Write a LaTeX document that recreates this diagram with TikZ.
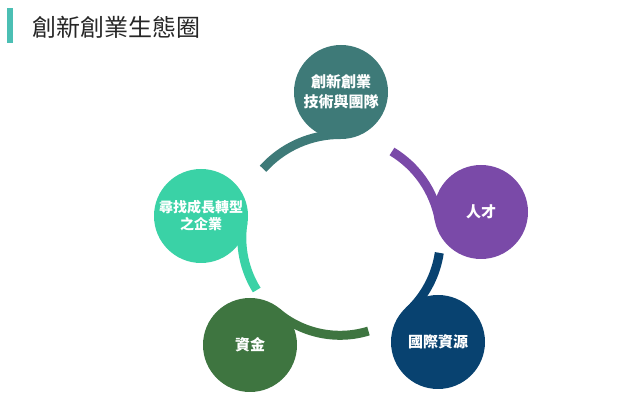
\documentclass[tikz,border=0pt]{standalone}
\usepackage{fontspec}
\setmainfont{Noto Sans CJK TC}
\definecolor{teamc}{RGB}{62,122,120}
\definecolor{talentc}{RGB}{122,74,168}
\definecolor{globalc}{RGB}{8,66,112}
\definecolor{fundc}{RGB}{62,117,64}
\definecolor{growc}{RGB}{58,210,166}
\definecolor{barc}{RGB}{75,191,180}
\usetikzlibrary{calc}
\tikzset{
  bubble/.style={circle, minimum size=94pt, inner sep=0pt, text=white, align=center,
                 font=\fontsize{15}{20}\selectfont\bfseries},
  tail/.style={line width=9pt, line cap=butt},
}

\begin{document}
\begin{tikzpicture}[x=1pt,y=1pt]
    \path[use as bounding box] (0,0) rectangle (631,403);
    \fill[barc] (7.3,360) rectangle (12.7,395);
    \node[anchor=west, inner sep=0pt, text=black!85, font=\fontsize{24}{28}\selectfont] (title) at (32,375.5) {創新創業生態圈};
    \coordinate (hub) at (340,165);
    % tails: inner edge touches the bubble, then runs round the hub
    \foreach \c/\a/\b/\r in {teamc/89.6/138/103.5, talentc/10.5/59/100.9, globalc/-46.7/-8.5/100.4,
                             fundc/229.9/287/97.3, growc/171/212/98.2}
      \draw[tail,\c] ($(hub)+(\a:\r)$) arc[start angle=\a, end angle=\b, radius=\r pt];
    \node[bubble, fill=teamc] (team) at (341,311) {創新創業\\技術與團隊};
    \node[bubble, fill=talentc] (talent) at (481,191) {人才};
    \node[bubble, fill=globalc] (global) at (438,61) {國際資源};
    \node[bubble, fill=fundc] (fund) at (250,58) {資金};
    \node[bubble, fill=growc, font=\fontsize{14}{17}\selectfont\bfseries] (grow) at (201,187) {尋找成長轉型\\之企業};
\end{tikzpicture}
\end{document}
